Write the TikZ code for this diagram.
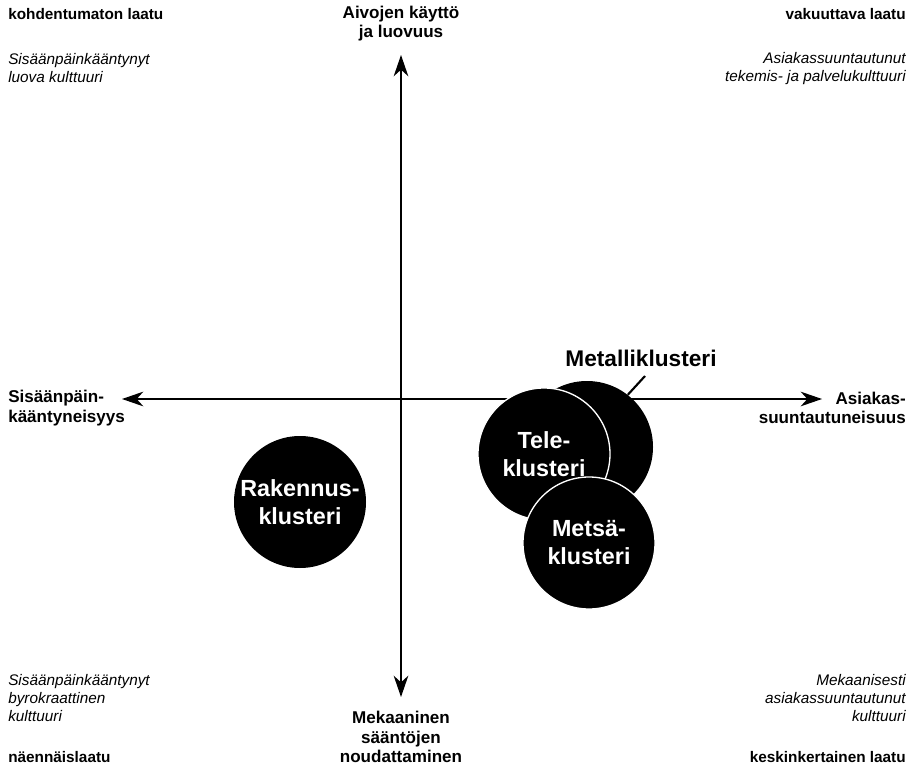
\documentclass[tikz,border=0pt]{standalone}
\usepackage{fontspec}
\setmainfont{Liberation Sans}
\usetikzlibrary{arrows.meta}
\begin{document}
\begin{tikzpicture}[x=0.75pt,y=-0.75pt,
  axis/.style={line width=1.1pt,{Stealth[length=16pt,width=11pt,inset=5pt]}-{Stealth[length=16pt,width=11pt,inset=5pt]}},
  quality/.style={inner sep=0pt,font=\fontsize{11.5}{14}\selectfont\bfseries},
  culture/.style={inner sep=0pt,font=\fontsize{11.5}{13.5}\selectfont\itshape},
  dimension/.style={inner sep=0pt,font=\fontsize{12.8}{14.5}\selectfont\bfseries},
  cluster/.style={circle,fill=black,minimum size=132*0.75pt,inner sep=0pt,align=center,
    text=white,font=\fontsize{17.5}{21}\selectfont\bfseries},
  frontcluster/.style={cluster,draw=white,line width=1pt}]
\useasboundingbox (0,0) rectangle (914,770);

% axes
\coordinate (west) at (122,399);
\coordinate (east) at (822,399);
\coordinate (north) at (401,55);
\coordinate (south) at (401,697);
\draw[axis] (west) -- (east);
\draw[axis] (north) -- (south);

% corner labels
\node[quality,anchor=west] (q1) at (8,14) {kohdentumaton laatu};
\node[culture,anchor=west,align=left] (c1) at (8,68.5) {Sisäänpäinkääntynyt\\luova kulttuuri};
\node[quality,anchor=east] (q2) at (906,14) {vakuuttava laatu};
\node[culture,anchor=east,align=right] (c2) at (906,68.5) {Asiakassuuntautunut\\tekemis- ja palvelukulttuuri};
\node[culture,anchor=west,align=left] (c3) at (8,698) {Sisäänpäinkääntynyt\\byrokraattinen\\kulttuuri};
\node[quality,anchor=west] (q3) at (8,757) {näennäislaatu};
\node[culture,anchor=east,align=right] (c4) at (906,698) {Mekaanisesti\\asiakassuuntautunut\\kulttuuri};
\node[quality,anchor=east] (q4) at (906,757) {keskinkertainen laatu};

% axis labels
\node[dimension,align=center] (up) at (401,23.5) {Aivojen käyttö\\ja luovuus};
\node[dimension,align=center] (down) at (401,737) {Mekaaninen\\sääntöjen\\noudattaminen};
\node[dimension,anchor=west,align=left] (left) at (8,408) {Sisäänpäin-\\kääntyneisyys};
\node[dimension,anchor=east,align=right] (right) at (906,408) {Asiakas-\\suuntautuneisuus};

% clusters
\node[cluster] (metalli) at (587,447) {};
\node[frontcluster] (tele) at (544,454) {Tele-\\klusteri};
\node[frontcluster] (metsa) at (589,543) {Metsä-\\klusteri};
\node[cluster] (rakennus) at (300,502) {Rakennus-\\klusteri};

% label of the partly hidden cluster
\node[inner sep=0pt,font=\fontsize{17}{21}\selectfont\bfseries] (metallilabel) at (641,358) {Metalliklusteri};
\coordinate (pointer) at (645,376);
\draw[line width=1.6pt] (pointer) -- (metalli.52);
\end{tikzpicture}
\end{document}
